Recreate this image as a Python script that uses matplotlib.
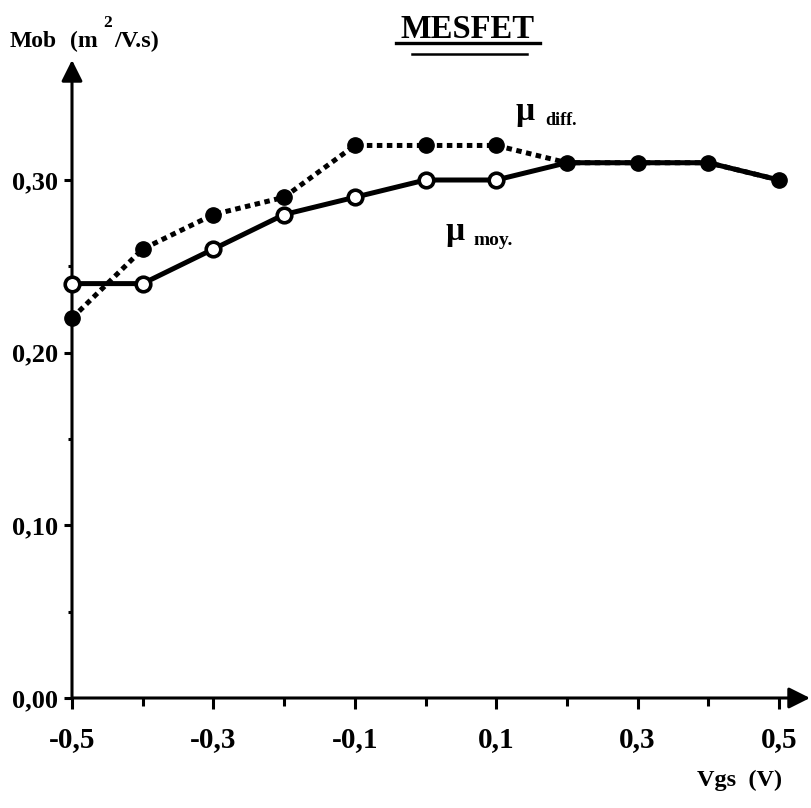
import matplotlib
matplotlib.use("Agg")
import matplotlib.pyplot as plt
from matplotlib.lines import Line2D
from matplotlib.ticker import FixedLocator, NullFormatter

# ---- data ----
vgs = [-0.5, -0.4, -0.3, -0.2, -0.1, 0.0, 0.1, 0.2, 0.3, 0.4, 0.5]
mu_diff = [0.22, 0.26, 0.28, 0.29, 0.32, 0.32, 0.32, 0.31, 0.31, 0.31, 0.30]
mu_moy = [0.24, 0.24, 0.26, 0.28, 0.29, 0.30, 0.30, 0.31, 0.31, 0.31, 0.30]
xtick_major = [-0.5, -0.3, -0.1, 0.1, 0.3, 0.5]
xtick_labels = ["-0,5", "-0,3", "-0,1", "0,1", "0,3", "0,5"]
xtick_minor = [-0.4, -0.2, 0.0, 0.2, 0.4]
ytick_major = [0.0, 0.1, 0.2, 0.3]
ytick_labels = ["0,00", "0,10", "0,20", "0,30"]
ytick_minor = [0.05, 0.15, 0.25]

FONT = "Liberation Serif"
W, H = 811, 808
fig = plt.figure(figsize=(W / 100, H / 100), dpi=100)

x0, x1 = 72, 810      # pixel extents of axes
ytop, ybot = 60, 698
ax = fig.add_axes([x0 / W, (H - ybot) / H, (x1 - x0) / W, (ybot - ytop) / H])
px_per_x = (779 - 72) / 1.0
ax.set_xlim(-0.5, 0.5 + (x1 - 779) / px_per_x)
px_per_y = (698 - 180) / 0.30
ax.set_ylim(0, (ybot - ytop) / px_per_y)

for s in ax.spines.values():
    s.set_visible(False)

# axes with arrows
ax.annotate("", xy=(1.0, 0), xytext=(0, 0), xycoords="axes fraction",
            arrowprops=dict(arrowstyle="-|>", lw=2.2, color="k", mutation_scale=32,
                            shrinkA=0, shrinkB=0), annotation_clip=False)
ax.annotate("", xy=(0, 1.0), xytext=(0, 0), xycoords="axes fraction",
            arrowprops=dict(arrowstyle="-|>", lw=2.2, color="k", mutation_scale=32,
                            shrinkA=0, shrinkB=0), annotation_clip=False)

# ticks
ax.xaxis.set_major_locator(FixedLocator(xtick_major))
ax.set_xticklabels(xtick_labels)
ax.xaxis.set_minor_locator(FixedLocator(xtick_minor))
ax.xaxis.set_minor_formatter(NullFormatter())
ax.yaxis.set_major_locator(FixedLocator(ytick_major))
ax.set_yticklabels(ytick_labels)
ax.yaxis.set_minor_locator(FixedLocator(ytick_minor))
ax.yaxis.set_minor_formatter(NullFormatter())
ax.tick_params(axis="x", which="major", direction="out", length=8, width=2.2, pad=12)
ax.tick_params(axis="x", which="minor", direction="out", length=6, width=2.2)
ax.tick_params(axis="y", which="major", direction="out", length=6, width=2.2, pad=4)
ax.tick_params(axis="y", which="minor", direction="out", length=3, width=2.2)
for lab in ax.get_xticklabels():
    lab.set_fontfamily(FONT); lab.set_fontweight("bold"); lab.set_fontsize(21)
for lab in ax.get_yticklabels():
    lab.set_fontfamily(FONT); lab.set_fontweight("bold"); lab.set_fontsize(19)

# lines
ax.plot(vgs, mu_diff, color="k", lw=3.6, linestyle=(0, (1.1, 0.9)),
        dash_capstyle="butt", zorder=3, clip_on=False)
ax.plot(vgs, mu_moy, color="k", lw=3.6, solid_capstyle="butt", zorder=4, clip_on=False)
ax.plot(vgs, mu_diff, linestyle="none", marker="o", ms=11, mfc="k", mec="k",
        zorder=5, clip_on=False)
open_x = [x for x, m, d in zip(vgs, mu_moy, mu_diff) if m != d]
open_y = [m for m, d in zip(mu_moy, mu_diff) if m != d]
ax.plot(open_x, open_y, linestyle="none", marker="o", ms=10.5, mfc="white", mec="k",
        mew=2.6, zorder=6, clip_on=False)

# texts
def ftext(x, y, s, size, **kw):
    fig.text(x / W, 1 - y / H, s, fontsize=size, fontfamily=FONT, fontweight="bold",
             va="baseline", **kw)

ftext(10, 47, "Mob", 17)
ftext(70, 47, "(m", 17)
ftext(103, 27, "2", 12.5)
ftext(114, 47, "/V.s)", 17.5)

ftext(468, 38, "MESFET", 23.5, ha="center")
fig.add_artist(Line2D([396 / W, 540 / W], [1 - 43 / H, 1 - 43 / H], color="k", lw=2.4))
fig.add_artist(Line2D([412 / W, 527 / W], [1 - 54 / H, 1 - 54 / H], color="k", lw=1.8))

ftext(516, 120, "\u03bc", 24)
ftext(545, 125, "diff.", 13)
ftext(446, 240, "\u03bc", 24)
ftext(473, 245, "moy.", 14)

ftext(697, 786, "Vgs  (V)", 17.5)

fig.savefig("out.png", dpi=100, facecolor="white")
